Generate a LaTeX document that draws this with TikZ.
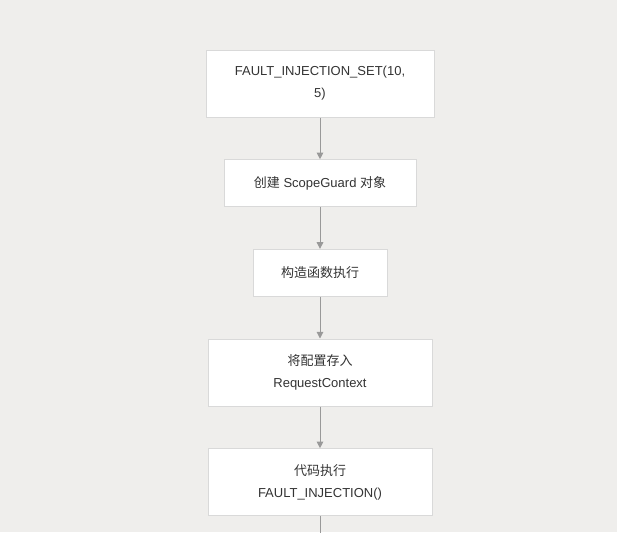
\documentclass[tikz,border=0pt]{standalone}
\usepackage{fontspec}
\setmainfont{Liberation Sans}
\newfontfamily\cjk{Noto Sans CJK SC}
\usepackage{tikz}
\usetikzlibrary{positioning, arrows.meta}
\definecolor{figbg}{HTML}{EFEEEC}
\definecolor{figboxline}{HTML}{D9D9D9}
\definecolor{figflowgray}{HTML}{999999}
\definecolor{figtext}{HTML}{333333}
\begin{document}
\begin{tikzpicture}[
  x=0.75pt, y=-0.75pt,
  font=\fontsize{9.75pt}{16.5pt}\selectfont,
  figstepbox/.style={
    rectangle, draw=figboxline, line width=0.75pt, fill=white, text=figtext,
    align=center, inner sep=0pt, minimum height=35.25pt,
  },
  figflow/.style={
    -{Triangle[length=5pt, width=5pt]}, line width=0.75pt, color=figflowgray,
  },
  node distance=31.25pt,
]
\useasboundingbox[fill=figbg] (0,0) rectangle (617,532);
\node[figstepbox, minimum width=171pt, minimum height=50.25pt] (figset) at (320,83.5) {%
  FAULT\_INJECTION\_SET(10,\\5)%
};
\node[figstepbox, minimum width=144pt, below=of figset] (figguard) {%
  {\cjk 创建} ScopeGuard {\cjk 对象}%
};
\node[figstepbox, minimum width=100.5pt, below=of figguard] (figctor) {%
  {\cjk 构造函数执行}%
};
\node[figstepbox, minimum width=168pt, minimum height=50.25pt, below=of figctor] (figstore) {%
  {\cjk 将配置存入}\\RequestContext%
};
\node[figstepbox, minimum width=168pt, minimum height=50.25pt, below=of figstore] (figrun) {%
  {\cjk 代码执行}\\FAULT\_INJECTION()%
};
\coordinate[below=30pt of figrun] (figtail);
\draw[figflow] (figset.south)   -- (figguard.north);
\draw[figflow] (figguard.south) -- (figctor.north);
\draw[figflow] (figctor.south)  -- (figstore.north);
\draw[figflow] (figstore.south) -- (figrun.north);
\draw[figflow] (figrun.south)   -- (figtail);
\end{tikzpicture}
\end{document}
